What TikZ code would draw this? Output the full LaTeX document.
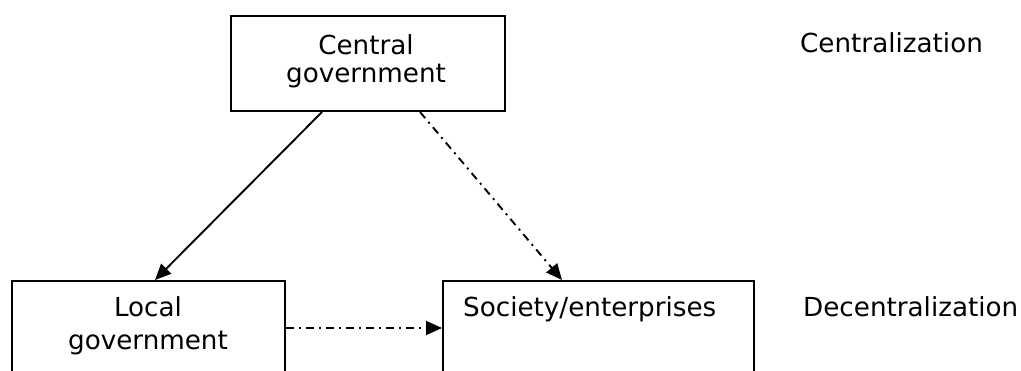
\documentclass[tikz,border=0pt]{standalone}
\usepackage{fontspec}
\setmainfont{DejaVu Sans}
\usetikzlibrary{arrows.meta,calc}
\begin{document}
\begin{tikzpicture}[x=1pt,y=-1pt,
  box/.style={draw=black,line width=2pt,minimum width=#1,inner sep=0pt,anchor=north west},
  txt/.style={font=\fontsize{26.2}{33}\selectfont,align=center,inner sep=0pt,anchor=base},
  conn/.style={line width=1.9pt,-{Triangle[length=16pt,width=14pt]}},
  dashdot/.style={dash pattern=on 8pt off 5pt on 2pt off 5pt}]
\clip (0,0) rectangle (1021,371);
\fill[white] (0,0) rectangle (1021,371);
% boxes
\node[box=274pt,minimum height=95pt] (cg) at (229.5,15) {};
\node[box=273pt,minimum height=120pt] (lg) at (11,280) {};
\node[box=311pt,minimum height=120pt] (se) at (442,280) {};
% texts
\node[txt] (cgt1) at (366,55) {Central};
\node[txt] (cgt2) at (366,83) {government};
\node[txt] (lgt1) at (148,317) {Local};
\node[txt] (lgt2) at (148,350) {government};
\node[txt,anchor=base west] (set) at (463,317) {Society/enterprises};
\node[txt,anchor=base west] (cen) at (800,53) {Centralization};
\node[txt,anchor=base west] (dec) at (803,317) {Decentralization};
% connector ends
\coordinate (a1) at ($(cg.south west)+(92.5,0)$);
\coordinate (a2) at ($(lg.north west)+(144,0)$);
\coordinate (b1) at ($(cg.south west)+(190.5,0)$);
\coordinate (b2) at ($(se.north west)+(120,0)$);
\coordinate (c1) at ($(lg.north east)+(0,48)$);
\coordinate (c2) at ($(se.north west)+(0,48)$);
\draw[conn] (a1) -- (a2);
\draw[conn,dashdot] (b1) -- (b2);
\draw[conn,dashdot] (c1) -- (c2);
\end{tikzpicture}
\end{document}
